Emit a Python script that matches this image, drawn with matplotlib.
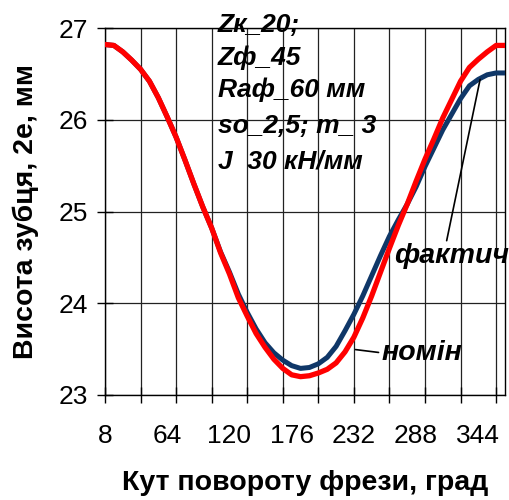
import numpy as np
import matplotlib
matplotlib.use("Agg")
import matplotlib.pyplot as plt

plt.rcParams['font.family'] = ['Liberation Sans', 'DejaVu Sans']

# кут повороту фрези, град
kut = np.arange(8, 369, 8)

# номінальна висота зубця (червона)
nomin = [26.82, 26.81, 26.74, 26.65, 26.55, 26.42, 26.24, 26.03, 25.81, 25.56,
         25.30, 25.05, 24.82, 24.55, 24.32, 24.06, 23.86, 23.67, 23.52, 23.39,
         23.29, 23.22, 23.20, 23.21, 23.24, 23.28, 23.35, 23.47, 23.63, 23.84,
         24.08, 24.34, 24.60, 24.85, 25.08, 25.33, 25.57, 25.79, 26.02, 26.22,
         26.42, 26.57, 26.66, 26.74, 26.81, 26.81]

# фактична висота зубця (синя)
faktych = [26.82, 26.81, 26.74, 26.65, 26.55, 26.42, 26.24, 26.03, 25.81, 25.56,
           25.30, 25.05, 24.82, 24.56, 24.34, 24.10, 23.90, 23.72, 23.57, 23.46,
           23.38, 23.32, 23.29, 23.30, 23.34, 23.41, 23.53, 23.70, 23.88, 24.08,
           24.30, 24.52, 24.73, 24.91, 25.08, 25.27, 25.49, 25.69, 25.89, 26.06,
           26.23, 26.37, 26.44, 26.49, 26.51, 26.51]

x_grid = np.arange(8, 361, 32)
x_labels = [8, 64, 120, 176, 232, 288, 344]
y_ticks = [23, 24, 25, 26, 27]

params = ['Zк_20;', 'Zф_45', 'Raф_60 мм', 'so_2,5; m_ 3', 'J  30 кН/мм']
params_y = [26.956, 26.597, 26.248, 25.856, 25.474]

fig = plt.figure(figsize=(5.09, 5.0), dpi=100)
ax = fig.add_axes([105/509, 105/500, 400/509, 367/500])

ax.plot(kut, faktych, color='#0f3768', linewidth=3.6, zorder=3)
ax.plot(kut, nomin, color='#ff0000', linewidth=3.8, zorder=4)

ax.set_xlim(8, 368)
ax.set_ylim(23, 27)

ax.xaxis.remove_overlapping_locs = False
ax.set_xticks(x_grid)
ax.set_xticklabels([])
ax.set_xticks(x_labels, minor=True)
ax.set_xticklabels([str(v) for v in x_labels], minor=True, fontsize=19)
ax.tick_params(axis='x', which='major', direction='inout', length=12, width=1)
ax.tick_params(axis='x', which='minor', length=0, pad=21)

ax.set_yticks(y_ticks)
ax.set_yticklabels([str(v) for v in y_ticks], fontsize=19)
ax.tick_params(axis='y', direction='inout', length=12, width=1, pad=6)

ax.grid(True, which='major', color='#222222', linewidth=0.9)
for s in ax.spines.values():
    s.set_linewidth(1.0)

ax.set_xlabel('Кут повороту фрези, град', fontsize=20.5, fontweight='bold', labelpad=16)
ax.set_ylabel('Висота зубця, 2е, мм', fontsize=20.5, fontweight='bold', labelpad=14)

for txt, yy in zip(params, params_y):
    ax.text(109.5, yy, txt, fontsize=19, fontweight='bold', style='italic',
            va='baseline', ha='left', clip_on=False, zorder=6)

ax.annotate('фактич', xy=(345.6, 26.44), xytext=(268.4, 24.51),
            fontsize=20.5, fontweight='bold', style='italic', va='center', ha='left',
            arrowprops=dict(arrowstyle='-', color='black', lw=1.2,
                            shrinkA=0, shrinkB=0, relpos=(0.45, 1.0)),
            annotation_clip=False, zorder=6)
ax.annotate('номін', xy=(223.5, 23.51), xytext=(256.7, 23.46),
            fontsize=20.5, fontweight='bold', style='italic', va='center', ha='left',
            arrowprops=dict(arrowstyle='-', color='black', lw=1.2,
                            shrinkA=0, shrinkB=8, relpos=(0.0, 0.5)),
            annotation_clip=False, zorder=6)

fig.savefig('out.png', dpi=100)
